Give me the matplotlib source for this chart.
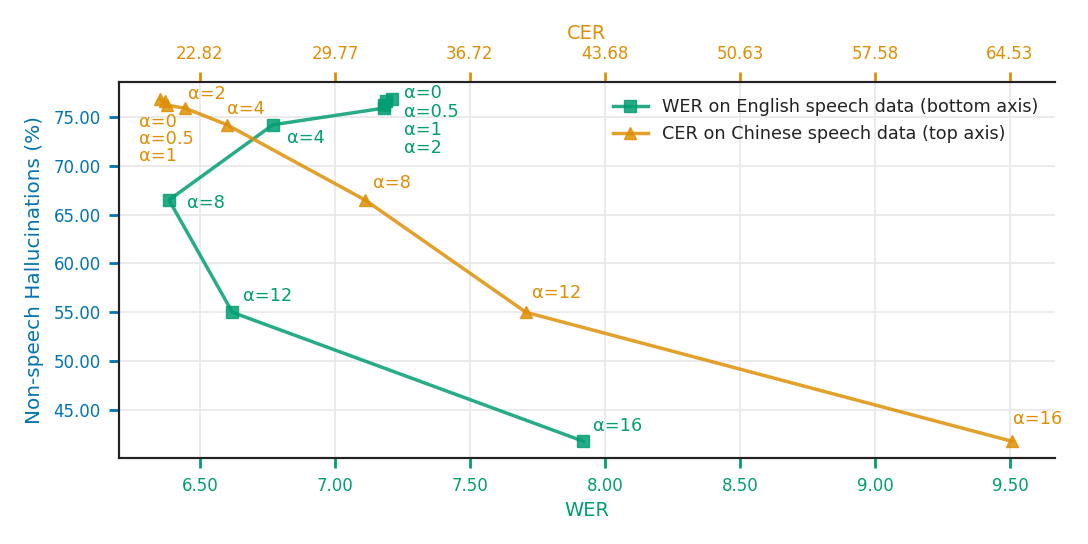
import matplotlib
matplotlib.use("Agg")
import matplotlib.pyplot as plt

alphas = ["0", "0.5", "1", "2", "4", "8", "12", "16"]
halluc = [76.8, 76.6, 76.2, 75.9, 74.2, 66.5, 55.0, 41.8]
wer = [7.21, 7.19, 7.18, 7.18, 6.77, 6.385, 6.62, 7.92]
cer = [20.76, 21.02, 21.12, 22.05, 24.21, 31.32, 39.61, 64.63]

wer_ticks = [6.5, 7.0, 7.5, 8.0, 8.5, 9.0, 9.5]
cer_ticks = [22.82, 29.77, 36.72, 43.68, 50.63, 57.58, 64.53]
y_ticks = [45, 50, 55, 60, 65, 70, 75]

green = "#029E73"
orange = "#DE8F05"
blue = "#0173B2"
fs = 12
afs = 12.8

fig = plt.figure(figsize=(10.88, 5.44), dpi=100)
ax = fig.add_axes([0.1094, 0.1581, 0.8603, 0.6912])
ax2 = ax.twiny()

l1, = ax.plot(wer, halluc, color=green, marker="s", markersize=9, lw=2.5,
              alpha=0.85, label="WER on English speech data (bottom axis)")
l2, = ax2.plot(cer, halluc, color=orange, marker="^", markersize=9, lw=2.5,
               alpha=0.85, label="CER on Chinese speech data (top axis)")

# limits
ax.set_xlim(6.2, 9.667)
ax.set_ylim(40.09, 78.58)
scale = (cer_ticks[-1] - cer_ticks[0]) / (wer_ticks[-1] - wer_ticks[0])
lo, hi = ax.get_xlim()
ax2.set_xlim(cer_ticks[0] + (lo - wer_ticks[0]) * scale,
             cer_ticks[0] + (hi - wer_ticks[0]) * scale)

ax.set_xticks(wer_ticks)
ax.set_xticklabels(["%.2f" % v for v in wer_ticks])
ax2.set_xticks(cer_ticks)
ax2.set_xticklabels(["%.2f" % v for v in cer_ticks])
ax.set_yticks(y_ticks)
ax.set_yticklabels(["%.2f" % v for v in y_ticks])

ax.tick_params(axis="x", colors=green, labelsize=fs, length=7, width=2, pad=7)
ax.tick_params(axis="y", colors=blue, labelsize=fs, length=7, width=2, pad=6)
ax2.tick_params(axis="x", colors=orange, labelsize=fs, length=7, width=2, pad=7)

ax.set_xlabel("WER", color=green, fontsize=14, labelpad=4)
ax.set_ylabel("Non-speech Hallucinations (%)", color=blue, fontsize=14.4, labelpad=7)
ax2.set_xlabel("CER", color=orange, fontsize=14, labelpad=4)

for a in (ax, ax2):
    a.spines["right"].set_visible(False)
    for s in ("left", "top", "bottom"):
        a.spines[s].set_color("#222222")
        a.spines[s].set_linewidth(1.5)

ax.grid(True, color="#e8e8e8", lw=1.2)
ax.set_axisbelow(True)

# annotations
def note(axis, x, y, txt, dx, dy, col, va="center", ls=1.2):
    axis.annotate(txt, (x, y), xytext=(dx, dy), textcoords="offset pixels",
                  color=col, fontsize=afs, ha="left", va=va, linespacing=ls)

note(ax, wer[0], halluc[0], "\n".join("α=" + a for a in alphas[:4]), 12, 15, green,
     va="top", ls=1.01)
note(ax, wer[4], halluc[4], "α=" + alphas[4], 14, -13, green)
note(ax, wer[5], halluc[5], "α=" + alphas[5], 18, -3, green)
note(ax, wer[6], halluc[6], "α=" + alphas[6], 11, 16, green)
note(ax, wer[7], halluc[7], "α=" + alphas[7], 10, 15, green)

note(ax2, cer[0], halluc[0], "\n".join("α=" + a for a in alphas[:3]), -21, -14, orange,
     va="top", ls=0.9)
note(ax2, cer[3], halluc[3], "α=" + alphas[3], 3, 14, orange)
note(ax2, cer[4], halluc[4], "α=" + alphas[4], 0, 16, orange)
note(ax2, cer[5], halluc[5], "α=" + alphas[5], 8, 17, orange)
note(ax2, cer[6], halluc[6], "α=" + alphas[6], 6, 19, orange)
note(ax2, cer[7], halluc[7], "α=" + alphas[7], 1, 22, orange)

leg = ax2.legend(handles=[l1, l2], loc="upper right", frameon=False, fontsize=12.7,
                 bbox_to_anchor=(0.999, 1.0))
for t in leg.get_texts():
    t.set_color("#222222")

fig.savefig("out.png", dpi=100)
